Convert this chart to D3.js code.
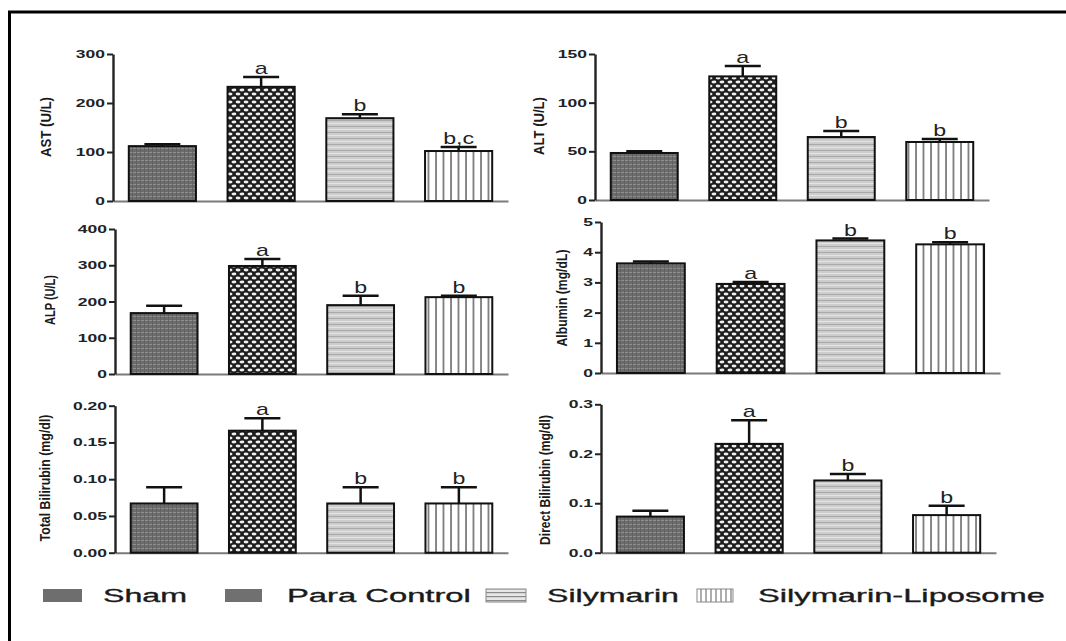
<!DOCTYPE html>
<html><head><meta charset="utf-8">
<script src="https://cdn.jsdelivr.net/npm/d3@7"></script>
<style>
body{margin:0;background:#fff}
svg{display:block}
text{font-family:"Liberation Sans",Arial,sans-serif}
</style>
</head><body>
<svg id="c" width="1066" height="641"></svg>
<script>
// ---------------- DATA ----------------
const groups = ["Sham", "Para Control", "Silymarin", "Silymarin-Liposome"];

const astMean = [112, 233, 169, 102];
const astSem  = [4, 20, 8, 8];
const astSig  = ["", "a", "b", "b,c"];

const altMean = [48.3, 127, 64.7, 59.6];
const altSem  = [1.7, 10.7, 6.3, 3.1];
const altSig  = ["", "a", "b", "b"];

const alpMean = [168, 298, 190, 212];
const alpSem  = [20, 19, 26, 4];
const alpSig  = ["", "a", "b", "b"];

const albMean = [3.63, 2.95, 4.39, 4.26];
const albSem  = [0.06, 0.06, 0.06, 0.07];
const albSig  = ["", "a", "b", "b"];

const tbilMean = [0.067, 0.166, 0.067, 0.067];
const tbilSem  = [0.022, 0.017, 0.022, 0.022];
const tbilSig  = ["", "a", "b", "b"];

const dbilMean = [0.073, 0.220, 0.146, 0.076];
const dbilSem  = [0.012, 0.048, 0.013, 0.019];
const dbilSig  = ["", "a", "b", "b"];

const astTicks  = [0, 100, 200, 300];
const altTicks  = [0, 50, 100, 150];
const alpTicks  = [0, 100, 200, 300, 400];
const albTicks  = [0, 1, 2, 3, 4, 5];
const tbilTicks = [0, 0.05, 0.10, 0.15, 0.20];
const dbilTicks = [0, 0.1, 0.2, 0.3];

const yLabels = ["AST (U/L)", "ALT (U/L)", "ALP (U/L)", "Albumin (mg/dL)", "Total Bilirubin (mg/dl)", "Direct Bilirubin (mg/dl)"];

// ---------------- LAYOUT ----------------
const panels = [
  {mean: astMean, sem: astSem, sig: astSig, ticks: astTicks, fmt: d3.format("d"), max: 300,
   x0: 113, x1: 508, yTop: 54, yBot: 201, label: yLabels[0], lx: 46, ly: 127, llen: 60},
  {mean: altMean, sem: altSem, sig: altSig, ticks: altTicks, fmt: d3.format("d"), max: 150,
   x0: 595, x1: 989, yTop: 54, yBot: 200, label: yLabels[1], lx: 539, ly: 126, llen: 58},
  {mean: alpMean, sem: alpSem, sig: alpSig, ticks: alpTicks, fmt: d3.format("d"), max: 400,
   x0: 115, x1: 508, yTop: 229, yBot: 374, label: yLabels[2], lx: 51, ly: 300, llen: 50},
  {mean: albMean, sem: albSem, sig: albSig, ticks: albTicks, fmt: d3.format("d"), max: 5,
   x0: 601, x1: 1000, yTop: 222, yBot: 373, label: yLabels[3], lx: 562, ly: 298, llen: 97},
  {mean: tbilMean, sem: tbilSem, sig: tbilSig, ticks: tbilTicks, fmt: d3.format(".2f"), max: 0.20,
   x0: 115, x1: 508, yTop: 405.7, yBot: 552.7, label: yLabels[4], lx: 45, ly: 478, llen: 127},
  {mean: dbilMean, sem: dbilSem, sig: dbilSig, ticks: dbilTicks, fmt: d3.format(".1f"), max: 0.3,
   x0: 601, x1: 996, yTop: 404.3, yBot: 552.7, label: yLabels[5], lx: 545, ly: 480, llen: 130}
];

const svg = d3.select("#c");
const defs = svg.append("defs");

function pat(id, w, h, build){
  const p = defs.append("pattern").attr("id", id).attr("patternUnits", "userSpaceOnUse")
    .attr("width", w).attr("height", h);
  build(p);
}
pat("p0", 4, 4, p => {
  p.append("rect").attr("width", 4).attr("height", 4).attr("fill", "#6c6c6c");
  p.append("line").attr("x1", 0).attr("x2", 4).attr("y1", 0.5).attr("y2", 0.5).attr("stroke", "#8e8e8e").attr("stroke-width", 1);
  p.append("line").attr("x1", 0.5).attr("x2", 0.5).attr("y1", 0).attr("y2", 4).attr("stroke", "#5e5e5e").attr("stroke-width", 0.8);
});
pat("p1", 8, 8, p => {
  p.append("rect").attr("width", 8).attr("height", 8).attr("fill", "#1c1c1c");
  [[2, 2], [6, 6], [10, 2], [-2, 6]].forEach(c =>
    p.append("ellipse").attr("cx", c[0]).attr("cy", c[1]).attr("rx", 2.4).attr("ry", 1.4).attr("fill", "#ededed"));
});
pat("p2", 6, 6, p => {
  p.append("rect").attr("width", 6).attr("height", 6).attr("fill", "#cdcdcd");
  p.append("line").attr("x1", 0).attr("x2", 6).attr("y1", 0.5).attr("y2", 0.5).attr("stroke", "#a8a8a8").attr("stroke-width", 1);
  p.append("line").attr("x1", 0).attr("x2", 6).attr("y1", 3.5).attr("y2", 3.5).attr("stroke", "#e4e4e4").attr("stroke-width", 1);
});
pat("p3", 7.5, 4, p => {
  p.append("rect").attr("width", 7.5).attr("height", 4).attr("fill", "#fff");
  p.append("line").attr("x1", 1).attr("x2", 1).attr("y1", 0).attr("y2", 4).attr("stroke", "#4a4a4a").attr("stroke-width", 1.3);
});
pat("l2", 6, 4, p => {
  p.append("rect").attr("width", 6).attr("height", 4).attr("fill", "#e6e6e6");
  p.append("line").attr("x1", 0).attr("x2", 6).attr("y1", 0.5).attr("y2", 0.5).attr("stroke", "#8a8a8a").attr("stroke-width", 1.4);
});
pat("l3", 5, 4, p => {
  p.append("rect").attr("width", 5).attr("height", 4).attr("fill", "#fff");
  p.append("line").attr("x1", 1).attr("x2", 1).attr("y1", 0).attr("y2", 4).attr("stroke", "#777").attr("stroke-width", 1.2);
});

function placeStretched(node, px, py, factor, pre){
  const s = d3.select(node).attr("x", 0).attr("y", 0);
  s.attr("transform", `translate(${px},${py})${pre || ""} scale(${factor},1)`);
}

// frame
svg.append("line").attr("x1", 8).attr("x2", 1066).attr("y1", 12).attr("y2", 12).attr("stroke", "#000").attr("stroke-width", 3);
svg.append("line").attr("x1", 9.5).attr("x2", 9.5).attr("y1", 11).attr("y2", 641).attr("stroke", "#000").attr("stroke-width", 3);

panels.forEach(P => {
  const g = svg.append("g");
  const x = d3.scaleBand().domain(groups).range([P.x0, P.x1]).paddingInner(0.32).paddingOuter(0.16);
  const y = d3.scaleLinear().domain([0, P.max]).range([P.yBot, P.yTop]);

  const xa = g.append("g").attr("transform", `translate(0,${P.yBot})`)
    .call(d3.axisBottom(x).tickSize(0).tickSizeOuter(0).tickFormat(""));
  xa.select(".domain").attr("stroke", "#7a7a7a").attr("stroke-width", 2);

  g.selectAll("rect.bar").data(groups).join("rect").attr("class", "bar")
    .attr("x", d => x(d)).attr("width", x.bandwidth())
    .attr("y", (d, i) => y(P.mean[i])).attr("height", (d, i) => y(0) - y(P.mean[i]))
    .attr("fill", (d, i) => `url(#p${i})`).attr("stroke", "#111").attr("stroke-width", 2);

  const cx = d => x(d) + x.bandwidth() / 2;
  g.selectAll("line.ev").data(groups).join("line").attr("class", "ev")
    .attr("x1", cx).attr("x2", cx)
    .attr("y1", (d, i) => y(P.mean[i])).attr("y2", (d, i) => y(P.mean[i] + P.sem[i]))
    .attr("stroke", "#111").attr("stroke-width", 2.5);
  g.selectAll("line.ec").data(groups).join("line").attr("class", "ec")
    .attr("x1", d => cx(d) - 18).attr("x2", d => cx(d) + 18)
    .attr("y1", (d, i) => y(P.mean[i] + P.sem[i])).attr("y2", (d, i) => y(P.mean[i] + P.sem[i]))
    .attr("stroke", "#111").attr("stroke-width", 2.5);

  g.selectAll("text.sig").data(groups).join("text").attr("class", "sig")
    .attr("text-anchor", "middle").attr("font-size", 16).attr("fill", "#222")
    .text((d, i) => P.sig[i])
    .each(function(d, i){ placeStretched(this, cx(d), y(P.mean[i] + P.sem[i]) - 3, 1.45); });

  const ya = g.append("g").attr("transform", `translate(${P.x0},0)`)
    .call(d3.axisLeft(y).tickValues(P.ticks).tickFormat(P.fmt).tickSize(6).tickSizeOuter(0).tickPadding(2));
  ya.select(".domain").attr("stroke", "#222").attr("stroke-width", 2.4);
  ya.selectAll(".tick line").attr("stroke", "#222").attr("stroke-width", 2);
  ya.selectAll(".tick text").attr("font-size", 10).attr("font-weight", "bold").attr("fill", "#222")
    .attr("font-family", '"Liberation Sans",Arial,sans-serif')
    .attr("dy", null).attr("dominant-baseline", "central")
    .each(function(){ placeStretched(this, -8, 0, 1.75); });

  const t = g.append("text").attr("text-anchor", "middle").attr("dominant-baseline", "central")
    .attr("font-size", 14).attr("font-weight", "bold").attr("fill", "#1a1a1a").text(P.label);
  const w = t.node().getComputedTextLength();
  placeStretched(t.node(), P.lx, P.ly, P.llen / w, " rotate(-90)");
});

// legend
const legSwX = [43, 225, 486, 697];
const legSwW = [39, 37, 40, 36];
const legTxX = [103, 287, 547, 758];
const legTxW = [84, 184, 132, 287];
const legFill = ["#6e6e6e", "#707070", "url(#l2)", "url(#l3)"];
const lg = svg.append("g");
lg.selectAll("rect").data(groups).join("rect")
  .attr("x", (d, i) => legSwX[i]).attr("y", 589).attr("width", (d, i) => legSwW[i]).attr("height", 13)
  .attr("fill", (d, i) => legFill[i])
  .attr("stroke", (d, i) => i >= 2 ? "#888" : "none").attr("stroke-width", 1);
lg.selectAll("text").data(groups).join("text")
  .attr("font-size", 19).attr("fill", "#1a1a1a").attr("stroke", "#1a1a1a").attr("stroke-width", 0.35)
  .text(d => d)
  .each(function(d, i){
    const w = this.getComputedTextLength();
    placeStretched(this, legTxX[i], 602, legTxW[i] / w);
  });
</script>
</body></html>
